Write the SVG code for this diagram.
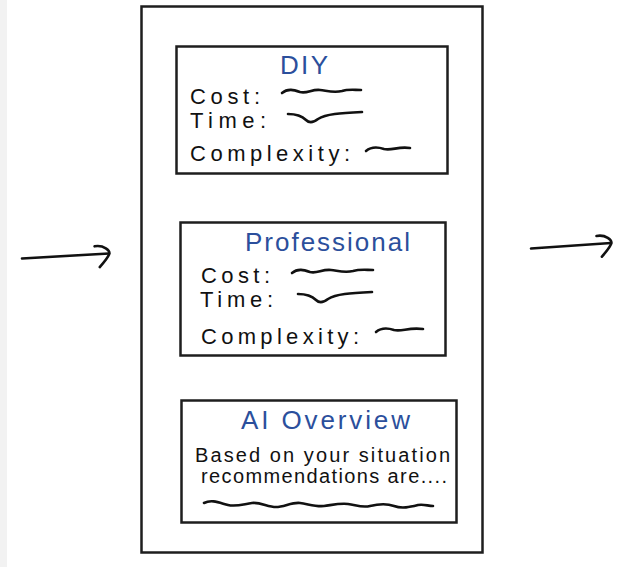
<svg xmlns="http://www.w3.org/2000/svg" width="639" height="567" viewBox="0 0 639 567">
<style>
.box{fill:#fff;stroke:#1e1e1e;stroke-width:2.5}
.title{font-family:"Liberation Sans",Arial,sans-serif;font-size:26px;fill:#2b4f9c}
.lbl{font-family:"Liberation Sans",Arial,sans-serif;font-size:22px;fill:#111}
.txt{font-family:"Liberation Sans",Arial,sans-serif;font-size:20px;fill:#111}
.sq{fill:none;stroke:#111;stroke-width:2.6;stroke-linecap:round;stroke-linejoin:round}
.arr{fill:none;stroke:#111;stroke-width:2.6;stroke-linecap:round}
</style>
<defs>
<marker id="head" markerUnits="userSpaceOnUse" markerWidth="30" markerHeight="30" refX="0" refY="0" orient="auto" overflow="visible">
<path d="M-14 -8 C-5 -9 2 -3 0 1 C-2 5 -6 9 -10 13" fill="none" stroke="#111" stroke-width="2.6" stroke-linecap="round"/>
</marker>
</defs>
<rect x="0" y="0" width="639" height="567" fill="#fff"/>
<rect x="0" y="0" width="7" height="567" fill="#f2f2f2"/>
<g id="container">
<rect class="box" x="141.5" y="6.5" width="341" height="546"/>
</g>
<g id="diy">
<rect class="box" x="176.5" y="46.5" width="271" height="127"/>
<text class="title" x="280" y="74" textLength="48" lengthAdjust="spacing">DIY</text>
<text class="lbl" x="190" y="104" textLength="70" lengthAdjust="spacing">Cost:</text>
<path class="sq" d="M282 93 C288 88 294 90 300 92 C307 94 312 89 320 90 C328 91 334 93 342 91 C348 89 354 90 361 90"/>
<text class="lbl" x="190" y="128" textLength="76" lengthAdjust="spacing">Time:</text>
<path class="sq" d="M288 114 C296 114 302 116 306 120 C309 123 313 123 318 119 C326 114 340 113 362 112"/>
<text class="lbl" x="190" y="161" textLength="160" lengthAdjust="spacing">Complexity:</text>
<path class="sq" d="M366 151 C372 146 378 147 384 149 C392 151 398 146 410 148"/>
</g>
<g id="professional">
<rect class="box" x="180.5" y="222.5" width="265" height="133"/>
<text class="title" x="245" y="251" textLength="165" lengthAdjust="spacing">Professional</text>
<text class="lbl" x="201" y="283" textLength="69" lengthAdjust="spacing">Cost:</text>
<path class="sq" d="M292 273 C298 268 304 270 310 272 C317 274 322 269 331 270 C339 271 345 273 353 271 C360 269 366 270 373 270"/>
<text class="lbl" x="200" y="307" textLength="73" lengthAdjust="spacing">Time:</text>
<path class="sq" d="M298 294 C306 294 312 296 316 300 C319 303 323 303 328 299 C336 294 350 293 372 292"/>
<text class="lbl" x="201" y="344" textLength="158" lengthAdjust="spacing">Complexity:</text>
<path class="sq" d="M376 332 C382 327 388 328 394 330 C402 332 408 327 423 329"/>
</g>
<g id="ai-overview">
<rect class="box" x="181.5" y="400.5" width="275" height="122"/>
<text class="title" x="241" y="429" textLength="169" lengthAdjust="spacing">AI Overview</text>
<text class="txt" x="195" y="462" textLength="255" lengthAdjust="spacing">Based on your situation</text>
<text class="txt" x="201" y="483" textLength="246" lengthAdjust="spacing">recommendations are....</text>
<path class="sq" d="M204 503 C212 499 220 503 228 505 C236 507 244 504 252 503 C260 502 268 507 276 507 C284 507 292 502 300 503 C308 504 316 507 324 506 C332 505 340 503 348 504 C356 505 362 508 370 506 C378 504 386 503 394 506 C402 509 410 507 418 505 C424 504 428 506 433 506"/>
</g>
<g id="connectors">
<path class="arr" d="M22 258.5 L109 253.5" marker-end="url(#head)"/>
<path class="arr" d="M531 248.5 L611 243" marker-end="url(#head)"/>
</g>
</svg>
